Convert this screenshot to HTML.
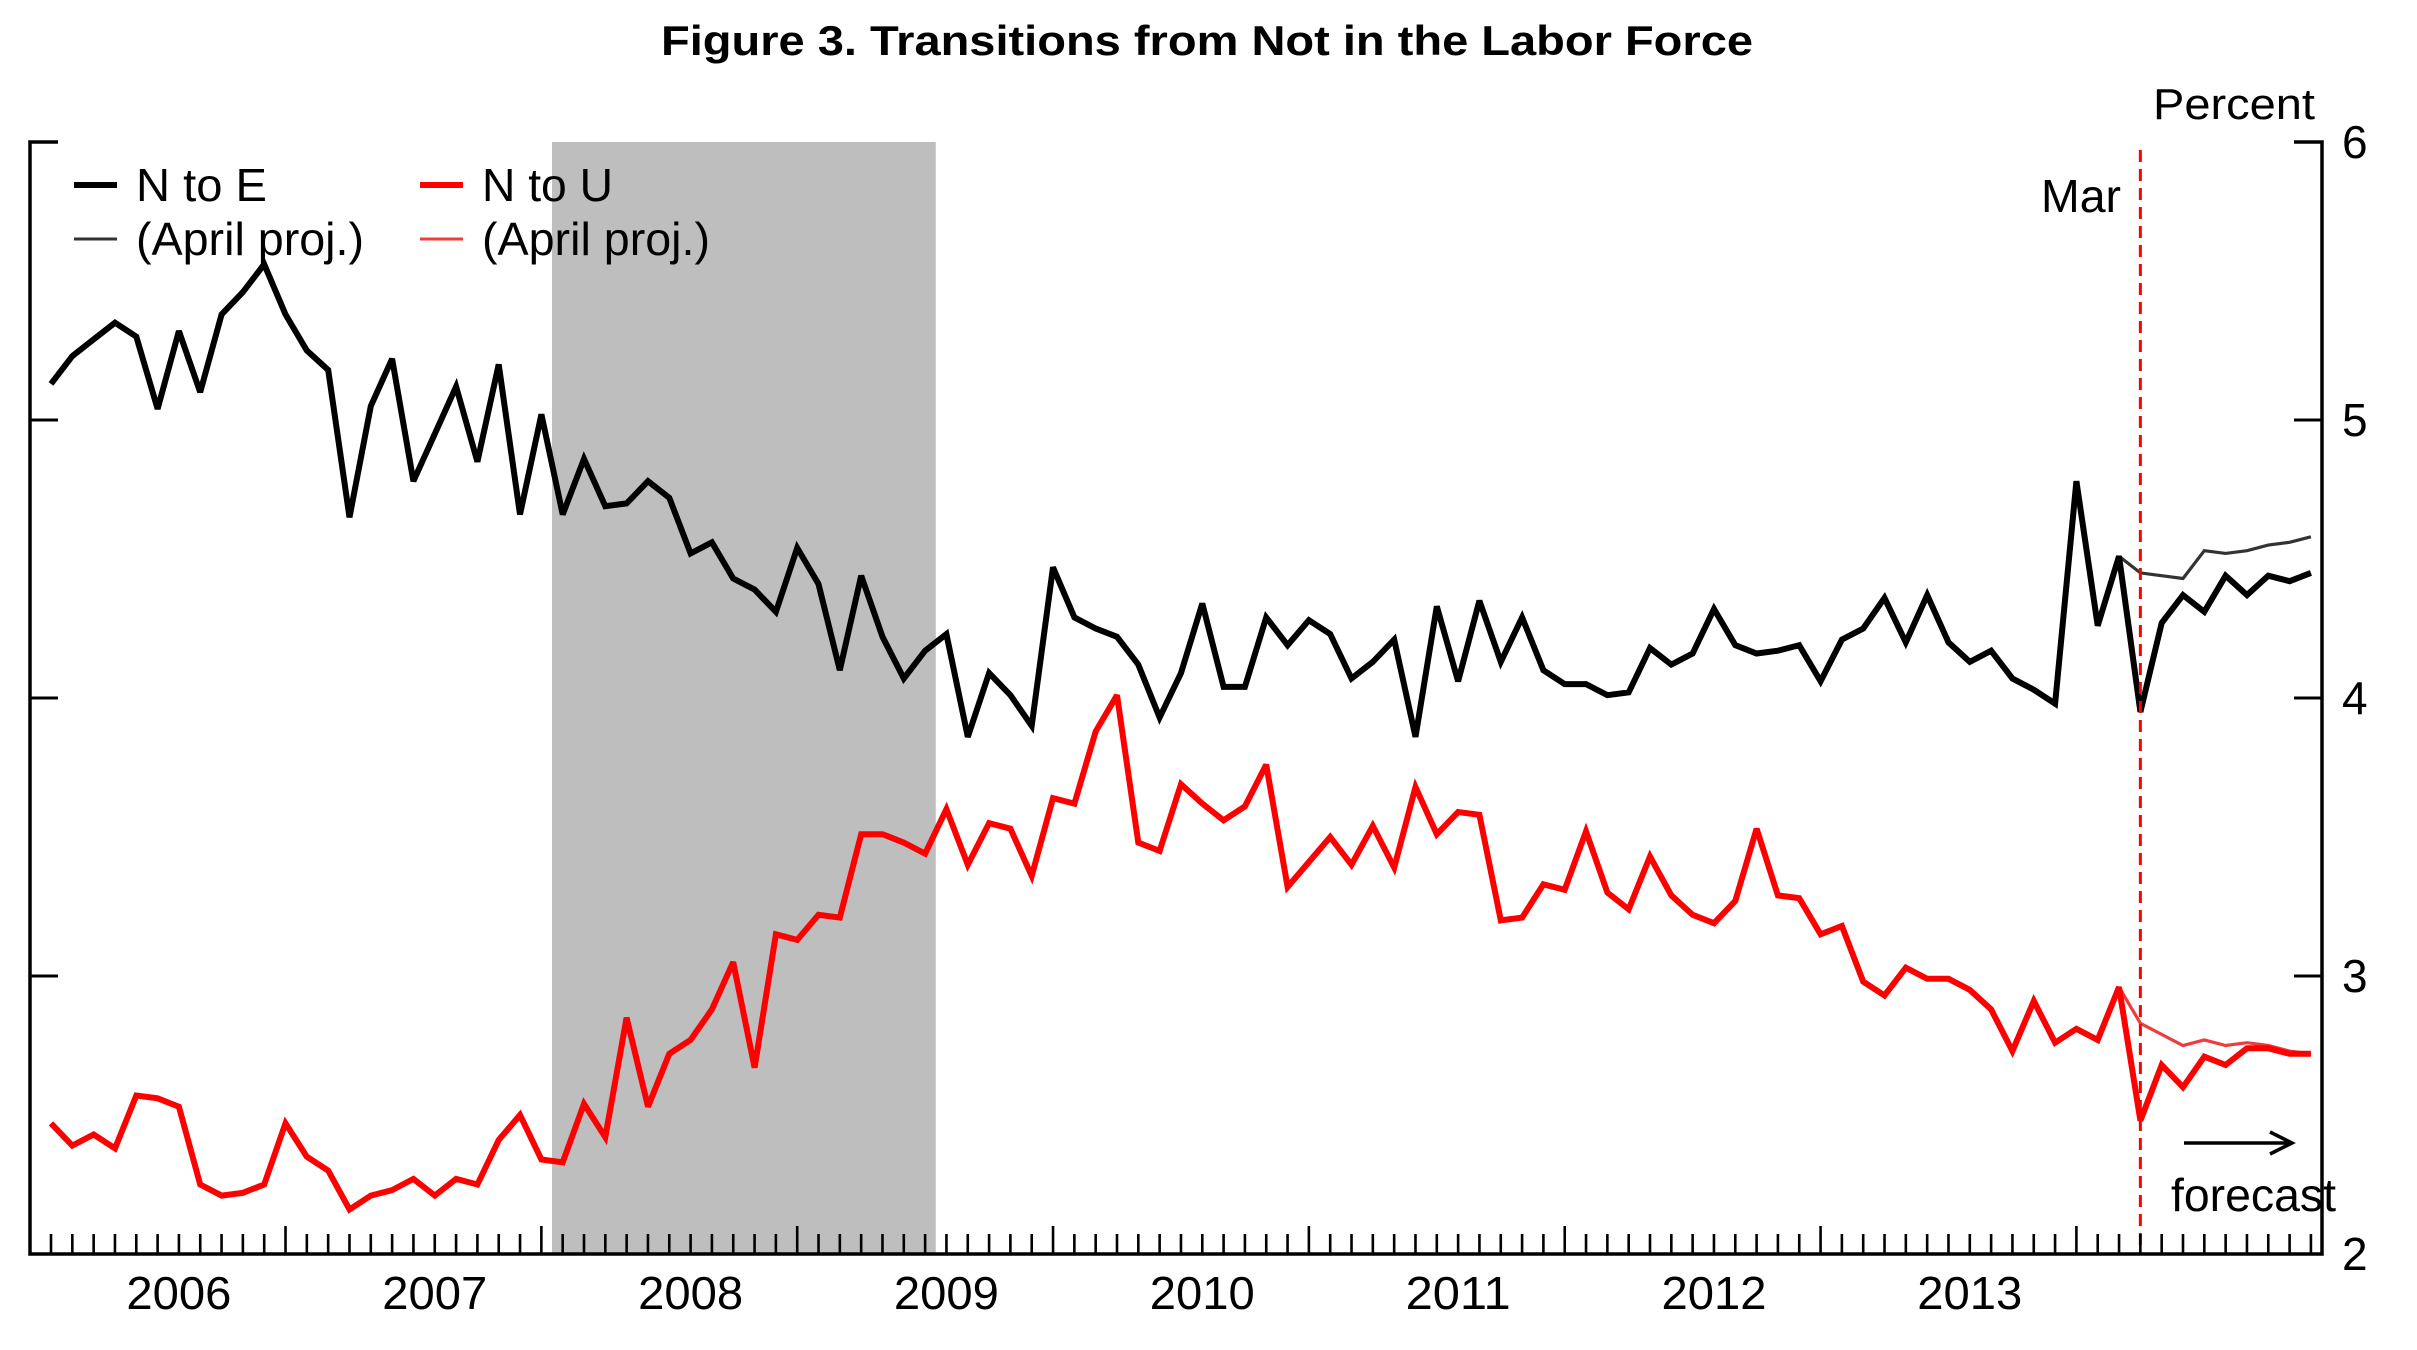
<!DOCTYPE html>
<html><head><meta charset="utf-8"><style>
html,body{margin:0;padding:0;background:#fff}
svg{display:block}
text{font-family:"Liberation Sans",Arial,sans-serif}
</style></head><body>
<svg id="chart" width="2417" height="1350" viewBox="0 0 2417 1350" xmlns="http://www.w3.org/2000/svg">
<text x="1207" y="55" text-anchor="middle" font-size="42" font-weight="bold" textLength="1092" lengthAdjust="spacingAndGlyphs">Figure 3. Transitions from Not in the Labor Force</text>
<text x="2234" y="119" text-anchor="middle" font-size="44" textLength="162" lengthAdjust="spacingAndGlyphs">Percent</text>
<g id="plot"></g>
</svg>
<script>
const nToE = [5.13,5.23,5.29,5.35,5.30,5.04,5.32,5.10,5.38,5.46,5.56,5.38,5.25,5.18,4.65,5.05,5.22,4.78,4.95,5.12,4.85,5.20,4.66,5.02,4.66,4.86,4.69,4.70,4.78,4.72,4.52,4.56,4.43,4.39,4.31,4.54,4.41,4.10,4.44,4.22,4.07,4.17,4.23,3.86,4.09,4.01,3.90,4.47,4.29,4.25,4.22,4.12,3.93,4.09,4.34,4.04,4.04,4.29,4.19,4.28,4.23,4.07,4.13,4.21,3.86,4.33,4.06,4.35,4.13,4.29,4.10,4.05,4.05,4.01,4.02,4.18,4.12,4.16,4.32,4.19,4.16,4.17,4.19,4.06,4.21,4.25,4.36,4.20,4.37,4.20,4.13,4.17,4.07,4.03,3.98,4.78,4.26,4.51,3.95,4.27,4.37,4.31,4.44,4.37,4.44,4.42,4.45];
const nToU = [2.47,2.39,2.43,2.38,2.57,2.56,2.53,2.25,2.21,2.22,2.25,2.47,2.35,2.30,2.16,2.21,2.23,2.27,2.21,2.27,2.25,2.41,2.50,2.34,2.33,2.54,2.42,2.85,2.53,2.72,2.77,2.88,3.05,2.67,3.15,3.13,3.22,3.21,3.51,3.51,3.48,3.44,3.60,3.40,3.55,3.53,3.36,3.64,3.62,3.88,4.01,3.48,3.45,3.69,3.62,3.56,3.61,3.76,3.32,3.41,3.50,3.40,3.54,3.39,3.68,3.51,3.59,3.58,3.20,3.21,3.33,3.31,3.52,3.30,3.24,3.43,3.29,3.22,3.19,3.27,3.53,3.29,3.28,3.15,3.18,2.98,2.93,3.03,2.99,2.99,2.95,2.88,2.73,2.91,2.76,2.81,2.77,2.96,2.48,2.68,2.60,2.71,2.68,2.74,2.74,2.72,2.72];
const projStart = 97;
const nToEProj = [4.51,4.45,4.44,4.43,4.53,4.52,4.53,4.55,4.56,4.58];
const nToUProj = [2.96,2.83,2.79,2.75,2.77,2.75,2.76,2.75,2.73,2.72];
const yTicks = [2,3,4,5,6];
const yearLabels = ["2006","2007","2008","2009","2010","2011","2012","2013"];
const recession = [23.5, 41.5];
const marMonth = 98;

const X0=51, DX=21.32, LEFT=30, RIGHT=2322, TOP=142, BOT=1254;
const xS = m => X0 + DX*m;
const yS = v => BOT - (v-2)*(BOT-TOP)/4;
const NS="http://www.w3.org/2000/svg";
const plot=document.getElementById('plot');
function mk(tag, attrs){const e=document.createElementNS(NS,tag);for(const k in attrs)e.setAttribute(k,attrs[k]);plot.appendChild(e);return e;}

let r=mk('rect',{x:xS(recession[0]),y:TOP,width:xS(recession[1])-xS(recession[0]),height:BOT-TOP,fill:'#bebebe'});



function series(vals, start, color, w, name){
  const pts=vals.map((v,i)=>xS(start+i).toFixed(1)+','+yS(v).toFixed(1)).join(' ');
  const p=mk('polyline',{points:pts,fill:'none',stroke:color,'stroke-width':w,'stroke-linejoin':'miter','stroke-miterlimit':3});
  
  
}
series(nToEProj, projStart, '#333', 3.2, 'n-to-e-april-proj-line');
series(nToUProj, projStart, '#f03c3c', 3.2, 'n-to-u-april-proj-line');
series(nToE, 0, '#000', 6, 'n-to-e-line');
series(nToU, 0, '#f00', 6, 'n-to-u-line');

let ml=mk('line',{x1:xS(marMonth),x2:xS(marMonth),y1:150,y2:BOT,stroke:'#f00','stroke-width':3,'stroke-dasharray':'12,7'});



let ax=mk('path',{d:`M${LEFT+28},${TOP}H${LEFT}V${BOT}H${RIGHT}V${TOP}H${RIGHT-28}`,fill:'none',stroke:'#000','stroke-width':3.5});


yTicks.forEach(v=>{
  if(v>2 && v<6){
    let t=mk('line',{x1:LEFT,x2:LEFT+28,y1:yS(v),y2:yS(v),stroke:'#000','stroke-width':3});
    
    
  }
  let t2=mk('line',{x1:RIGHT-28,x2:RIGHT,y1:yS(v),y2:yS(v),stroke:'#000','stroke-width':3});
  
  
  let lb=mk('text',{x:RIGHT+20,y:yS(v)+16,'font-size':46});
  lb.textContent=v;
  
  
});
for(let m=0;m<=nToE.length-1;m++){
  const tall=(m%12)===11;
  let t=mk('line',{x1:xS(m),x2:xS(m),y1:BOT-(tall?28:20),y2:BOT,stroke:'#000','stroke-width':2.6});
  
  
}
yearLabels.forEach((y,i)=>{
  let t=mk('text',{x:xS(6+12*i),y:1309,'font-size':46,'text-anchor':'middle',textLength:105,lengthAdjust:'spacingAndGlyphs'});
  t.textContent=y;
  
  
});

let mt=mk('text',{x:2121,y:212,'font-size':46,'text-anchor':'end',textLength:80,lengthAdjust:'spacingAndGlyphs'});
mt.textContent='Mar';


let ar=mk('path',{d:'M2184,1143H2292M2270,1132L2292,1143L2270,1154',fill:'none',stroke:'#000','stroke-width':3.5});


let ft=mk('text',{x:2171,y:1211,'font-size':46,textLength:165,lengthAdjust:'spacingAndGlyphs'});
ft.textContent='forecast';



const legend=[
  {x:74,y:185,c:'#000',w:6,t:'N to E',n:'legend-n-to-e',tl:131},
  {x:74,y:239,c:'#333',w:3,t:'(April proj.)',n:'legend-n-to-e-proj',tl:228},
  {x:420,y:185,c:'#f00',w:6,t:'N to U',n:'legend-n-to-u',tl:131},
  {x:420,y:239,c:'#f03c3c',w:3,t:'(April proj.)',n:'legend-n-to-u-proj',tl:228}
];
legend.forEach(l=>{
  let g=mk('line',{x1:l.x,x2:l.x+43,y1:l.y,y2:l.y,stroke:l.c,'stroke-width':l.w});
  
  
  let t=mk('text',{x:l.x+62,y:l.y+16,'font-size':46,textLength:l.tl,lengthAdjust:'spacingAndGlyphs'});
  t.textContent=l.t;
  
  
});
</script>
</body></html>
